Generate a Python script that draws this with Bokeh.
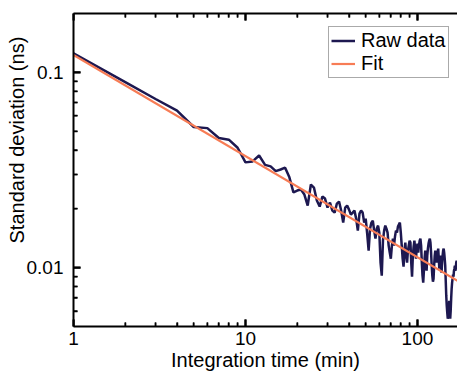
import math
from bokeh.plotting import figure
from bokeh.models import (Range1d, LogAxis, FixedTicker, CustomJSTickFormatter,
                          Legend, LegendItem, Title)
from bokeh.embed import file_html
from bokeh.resources import INLINE

# ---- data ----
time_min = list(range(1, 171))
raw_std_ns = [
    0.1251, 0.0891, 0.0730, 0.0637, 0.0525, 0.0518, 0.0461, 0.0452, 0.0411, 0.0346,
    0.0350, 0.0375, 0.0336, 0.0330, 0.0312, 0.0318, 0.0325, 0.0290, 0.0243, 0.02482,
    0.02511, 0.02367, 0.02079, 0.02664, 0.02572, 0.02206, 0.02055, 0.02312, 0.02258, 0.02031,
    0.02155, 0.01960, 0.01914, 0.02129, 0.02180, 0.01960, 0.01701, 0.02031, 0.02079, 0.01983,
    0.01870, 0.01914, 0.01960, 0.01783, 0.01548, 0.01892, 0.01960, 0.01914, 0.01701, 0.01783,
    0.01494, 0.01223, 0.01585, 0.01701, 0.01742, 0.01548, 0.01409, 0.01585, 0.01642, 0.01512,
    0.01061, 0.00910, 0.01376, 0.01548, 0.01642, 0.01585, 0.01512, 0.01297, 0.01194, 0.01112,
    0.01297, 0.01409, 0.01297, 0.01442, 0.01548, 0.01512, 0.01623, 0.01662, 0.01701, 0.01512,
    0.01297, 0.01112, 0.01012, 0.01223, 0.01344, 0.01152, 0.01061, 0.01223, 0.01297, 0.01376,
    0.01344, 0.01061, 0.00899, 0.01152, 0.01282, 0.01376, 0.01223, 0.01112, 0.01252, 0.01328,
    0.01194, 0.01297, 0.01376, 0.01409, 0.01297, 0.01061, 0.00910, 0.00838, 0.00965, 0.01112,
    0.01223, 0.01061, 0.00965, 0.01152, 0.01252, 0.01328, 0.01376, 0.01409, 0.01344, 0.01194,
    0.01024, 0.00910, 0.00848, 0.00878, 0.01024, 0.01152, 0.01223, 0.01112, 0.01061, 0.01152,
    0.01194, 0.01252, 0.01112, 0.00988, 0.01061, 0.01152, 0.01036, 0.00943, 0.01061, 0.01152,
    0.01223, 0.01252, 0.01194, 0.01112, 0.01024, 0.00858, 0.00719, 0.00639, 0.00588, 0.00548,
    0.00560, 0.00616, 0.00677, 0.00588, 0.00548, 0.00602, 0.00693, 0.00780, 0.00838, 0.00878,
    0.00921, 0.00899, 0.00965, 0.00988, 0.01024, 0.00965, 0.00988, 0.01061, 0.01086, 0.01061,
]
fit_time_min = [1, 171]
fit_std_ns = [0.1227, 0.00856]

x_major = [1, 10, 100]
x_minor = [2, 3, 4, 5, 6, 7, 8, 9, 20, 30, 40, 50, 60, 70, 80, 90]
y_major = [0.01, 0.1]
y_minor = [0.006, 0.007, 0.008, 0.009,
           0.02, 0.03, 0.04, 0.05, 0.06, 0.07, 0.08, 0.09]

X_START, X_END = 1, 170.9
Y_START, Y_END = 0.005, 0.2

FONT = "Liberation Sans"
NAVY = "#1d1850"
ORANGE = "#f77c55"

p = figure(width=457, height=376, x_axis_type="log", y_axis_type="log",
           x_range=Range1d(X_START, X_END), y_range=Range1d(Y_START, Y_END),
           output_backend="svg", toolbar_location=None,
           min_border_left=73, min_border_right=0, min_border_top=13,
           min_border_bottom=50)
p.outline_line_color = None
p.xgrid.visible = False
p.ygrid.visible = False
p.background_fill_color = "white"
p.border_fill_color = "white"

fmt = CustomJSTickFormatter(code="return tick >= 1 ? tick.toFixed(0) : String(tick);")
empty_fmt = CustomJSTickFormatter(code="return '';")


def style_axis(ax):
    ax.axis_line_width = 2
    ax.axis_line_color = "black"
    ax.major_tick_in = 7
    ax.major_tick_out = 0
    ax.minor_tick_in = 4
    ax.minor_tick_out = 0
    ax.major_tick_line_width = 2
    ax.minor_tick_line_width = 1.5
    ax.major_tick_line_color = "black"
    ax.minor_tick_line_color = "black"
    ax.major_label_text_font = FONT
    ax.major_label_text_font_size = "19px"
    ax.major_label_text_color = "black"
    ax.axis_label_text_font = FONT
    ax.axis_label_text_font_size = "20px"
    ax.axis_label_text_font_style = "normal"
    ax.axis_label_text_color = "black"


xax = p.xaxis[0]
xax.ticker = FixedTicker(ticks=x_major, minor_ticks=x_minor)
xax.formatter = fmt
style_axis(xax)
xax.axis_label = "Integration time (min)"
xax.major_label_standoff = 5
xax.axis_label_standoff = 1

yax = p.yaxis[0]
yax.ticker = FixedTicker(ticks=y_major, minor_ticks=y_minor)
yax.formatter = fmt
style_axis(yax)
yax.major_label_standoff = 10

top = LogAxis(ticker=FixedTicker(ticks=x_major, minor_ticks=x_minor), formatter=empty_fmt)
style_axis(top)
top.major_label_standoff = 0
top.major_label_text_font_size = "1px"
p.add_layout(top, "above")

# y-axis title as a left-side title, starting above the frame bottom like the original
ytitle = Title(text="Standard deviation (ns)", align="left", offset=83, standoff=-8,
               text_font=FONT, text_font_size="20px", text_font_style="normal",
               text_color="black")
p.add_layout(ytitle, "left")

# inward tick marks drawn at the frame edges (half of each dash is clipped away)
n_xmin, n_xmaj = len(x_minor), len(x_major)
n_ymin, n_ymaj = len(y_minor), len(y_major)
tick_kw = dict(marker="dash", line_color="black", fill_color="black")
p.scatter(x_minor, [Y_START] * n_xmin, size=8, angle=math.pi / 2, line_width=1.5, **tick_kw)
p.scatter(x_minor, [Y_END] * n_xmin, size=8, angle=math.pi / 2, line_width=1.5, **tick_kw)
p.scatter(x_major, [Y_START] * n_xmaj, size=14, angle=math.pi / 2, line_width=2, **tick_kw)
p.scatter(x_major, [Y_END] * n_xmaj, size=14, angle=math.pi / 2, line_width=2, **tick_kw)
p.scatter([X_START] * n_ymin, y_minor, size=8, angle=0, line_width=1.5, **tick_kw)
p.scatter([X_START] * n_ymaj, y_major, size=14, angle=0, line_width=2, **tick_kw)

r_raw = p.line(time_min, raw_std_ns, line_color=NAVY, line_width=2.5)
r_fit = p.line(fit_time_min, fit_std_ns, line_color=ORANGE, line_width=2.2)

legend = Legend(items=[LegendItem(label="Raw data", renderers=[r_raw]),
                       LegendItem(label="Fit", renderers=[r_fit])],
                location=(255, 248))
legend.label_text_font = FONT
legend.label_text_font_size = "20px"
legend.label_text_color = "black"
legend.padding = 2
legend.spacing = 0
legend.margin = 0
legend.glyph_width = 24
legend.glyph_height = 21
legend.label_height = 21
legend.label_standoff = 6
legend.border_line_color = "#555555"
legend.border_line_width = 1
legend.background_fill_color = "white"
legend.background_fill_alpha = 1
p.add_layout(legend)

open("out.html", "w").write(file_html(p, INLINE))
